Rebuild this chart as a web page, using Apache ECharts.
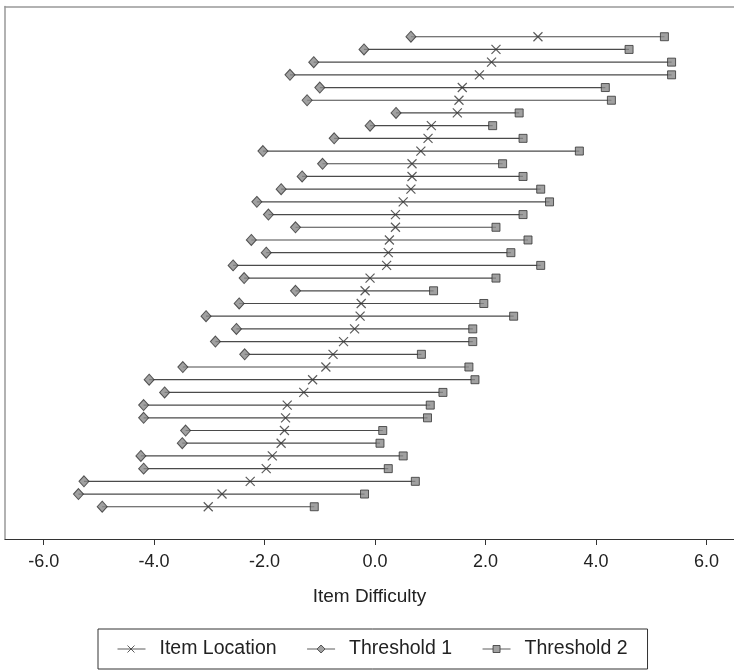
<!DOCTYPE html>
<html>
<head>
<meta charset="utf-8">
<title>Item Difficulty</title>
<script src="https://cdn.jsdelivr.net/npm/echarts@6.0.0/dist/echarts.min.js"></script>
<style>
  html, body { margin: 0; padding: 0; background: #fff; }
  #chart { width: 734px; height: 670px; }
</style>
</head>
<body>
<div id="chart"></div>
<script>
// items listed top to bottom
const itemLocation = [2.95, 2.19, 2.11, 1.89, 1.58, 1.52, 1.49, 1.02, 0.96, 0.83,
  0.67, 0.67, 0.65, 0.51, 0.37, 0.37, 0.26, 0.24, 0.21, -0.09,
  -0.18, -0.25, -0.27, -0.37, -0.57, -0.76, -0.89, -1.13, -1.29, -1.59,
  -1.62, -1.64, -1.70, -1.86, -1.97, -2.26, -2.77, -3.02];
const threshold1 = [0.65, -0.20, -1.11, -1.54, -1.00, -1.23, 0.38, -0.09, -0.74, -2.03,
  -0.95, -1.32, -1.70, -2.14, -1.93, -1.44, -2.24, -1.97, -2.57, -2.37,
  -1.44, -2.46, -3.06, -2.51, -2.89, -2.36, -3.48, -4.09, -3.81, -4.19,
  -4.19, -3.43, -3.49, -4.24, -4.19, -5.27, -5.37, -4.94];
const threshold2 = [5.24, 4.60, 5.37, 5.37, 4.17, 4.28, 2.61, 2.13, 2.68, 3.70,
  2.31, 2.68, 3.00, 3.16, 2.68, 2.19, 2.77, 2.46, 3.00, 2.19,
  1.06, 1.97, 2.51, 1.77, 1.77, 0.84, 1.70, 1.81, 1.23, 1.00,
  0.95, 0.14, 0.09, 0.51, 0.24, 0.73, -0.19, -1.10];
const xTicks = [-6, -4, -2, 0, 2, 4, 6];

const font = 'Liberation Sans, Arial, sans-serif';
const markFill = '#8a8a8a';
const markEdge = '#333';
const frameGray = '#999';

const chart = echarts.init(document.getElementById('chart'), null, { renderer: 'canvas' });

const option = {
  animation: false,
  backgroundColor: '#fff',
  grid: {
    left: 5,
    top: 6.5,
    right: 0,
    bottom: 131
  },
  xAxis: [
    {
      type: 'value',
      min: -6.7,
      max: 6.5,
      name: 'Item Difficulty',
      nameLocation: 'middle',
      nameGap: 48,
      nameTextStyle: { fontFamily: font, fontSize: 19, color: '#222' },
      axisLine: { show: true, onZero: false, lineStyle: { color: '#333', width: 1.2 } },
      axisTick: { show: true, customValues: xTicks, length: 6, lineStyle: { color: '#333' } },
      axisLabel: {
        customValues: xTicks,
        margin: 14,
        fontFamily: font,
        fontSize: 18,
        color: '#222',
        formatter: (v) => v.toFixed(1)
      },
      splitLine: { show: false }
    },
    {
      // top frame line only
      type: 'value',
      position: 'top',
      min: -6.7,
      max: 6.5,
      axisLine: { show: true, onZero: false, lineStyle: { color: frameGray, width: 1.5 } },
      axisTick: { show: false },
      axisLabel: { show: false },
      splitLine: { show: false }
    }
  ],
  yAxis: {
    type: 'value',
    inverse: true,
    min: -2.38,
    max: 39.54,
    axisLine: { show: true, onZero: false, lineStyle: { color: frameGray, width: 1.5 } },
    axisTick: { show: false },
    axisLabel: { show: false },
    splitLine: { show: false }
  },
  legend: {
    left: 98,
    top: 629,
    orient: 'horizontal',
    borderColor: '#333',
    borderWidth: 1,
    padding: [10, 20, 10, 17],
    itemGap: 30,
    itemWidth: 28,
    itemHeight: 10,
    textStyle: { fontFamily: font, fontSize: 19.5, color: '#222', lineHeight: 19, padding: [0, 0, 0, 9] },
    data: [
      { name: 'Item Location', icon: 'path://M0,5L28,5M10,1.5L17,8.5M17,1.5L10,8.5', itemStyle: { borderWidth: 1 } },
      { name: 'Threshold 1', icon: 'path://M0,5H10M10,5L14,1L18,5L14,9Z M18,5H28', itemStyle: { borderWidth: 1 } },
      { name: 'Threshold 2', icon: 'path://M0,5H10.5M10.5,1.5H17.5V8.5H10.5Z M17.5,5H28', itemStyle: { borderWidth: 1 } }
    ]
  },
  series: [
    {
      // horizontal bar from threshold 1 to threshold 2
      type: 'custom',
      silent: true,
      z: 1,
      data: threshold1.map((t, i) => [t, threshold2[i], i]),
      encode: { x: [0, 1], y: 2 },
      renderItem: function (params, api) {
        const a = api.coord([api.value(0), api.value(2)]);
        const b = api.coord([api.value(1), api.value(2)]);
        return {
          type: 'line',
          shape: { x1: a[0], y1: a[1], x2: b[0], y2: b[1] },
          style: { stroke: '#4a4a4a', lineWidth: 1.2 }
        };
      }
    },
    {
      name: 'Item Location',
      type: 'scatter',
      z: 3,
      symbol: 'path://M0,0L10,10M10,0L0,10',
      symbolSize: 9,
      itemStyle: { color: 'none', borderColor: '#333', borderWidth: 1.2 },
      data: itemLocation.map((v, i) => [v, i])
    },
    {
      name: 'Threshold 1',
      type: 'scatter',
      z: 3,
      symbol: 'diamond',
      symbolSize: [10, 11],
      itemStyle: { color: markFill, borderColor: markEdge, borderWidth: 1 },
      data: threshold1.map((v, i) => [v, i])
    },
    {
      name: 'Threshold 2',
      type: 'scatter',
      z: 3,
      symbol: 'rect',
      symbolSize: 8,
      itemStyle: { color: markFill, borderColor: markEdge, borderWidth: 1 },
      data: threshold2.map((v, i) => [v, i])
    }
  ]
};

chart.setOption(option);
</script>
</body>
</html>
